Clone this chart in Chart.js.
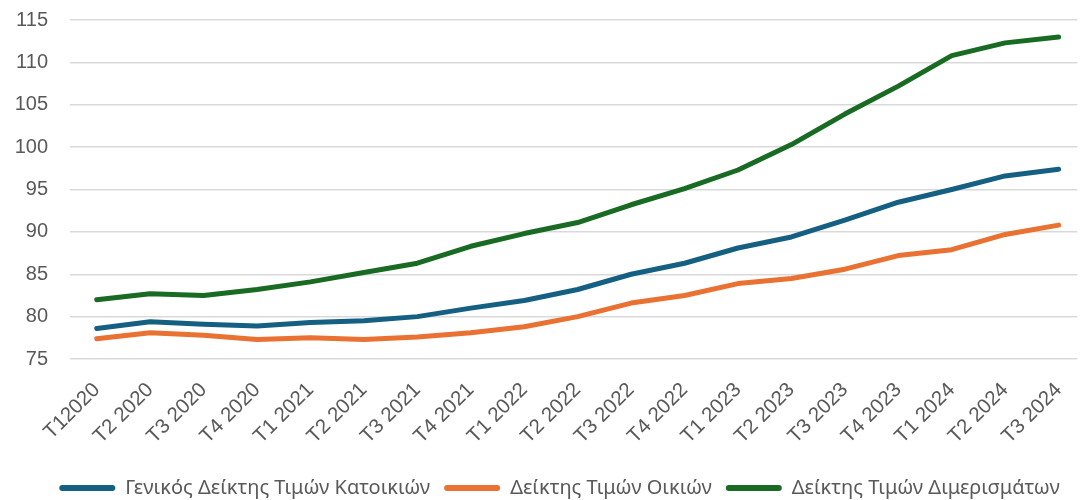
<!DOCTYPE html>
<html>
<head>
<meta charset="utf-8">
<script src="https://cdn.jsdelivr.net/npm/chart.js@4.4.1/dist/chart.umd.min.js"></script>
<style>
    html, body { margin: 0; padding: 0; background: #fff; }
    #wrap { width: 1087px; height: 500px; }
</style>
</head>
<body>
<div id="wrap"><canvas id="chart"></canvas></div>
<script>
const quarters = [
    'T12020', 'T2 2020', 'T3 2020', 'T4 2020',
    'T1 2021', 'T2 2021', 'T3 2021', 'T4 2021',
    'T1 2022', 'T2 2022', 'T3 2022', 'T4 2022',
    'T1 2023', 'T2 2023', 'T3 2023', 'T4 2023',
    'T1 2024', 'T2 2024', 'T3 2024'
];

const generalIndex = [78.6, 79.4, 79.1, 78.9, 79.3, 79.5, 80.0, 81.0, 81.9, 83.2, 85.0, 86.3, 88.1, 89.4, 91.4, 93.5, 95.0, 96.6, 97.4];
const houseIndex = [77.4, 78.1, 77.8, 77.3, 77.5, 77.3, 77.6, 78.1, 78.8, 80.0, 81.6, 82.5, 83.9, 84.5, 85.6, 87.2, 87.9, 89.7, 90.8];
const flatIndex = [82.0, 82.7, 82.5, 83.2, 84.1, 85.2, 86.3, 88.3, 89.8, 91.1, 93.2, 95.1, 97.3, 100.3, 103.9, 107.2, 110.8, 112.3, 113.0];

const seriesNames = ['Γενικός Δείκτης Τιμών Κατοικιών', 'Δείκτης Τιμών Οικιών', 'Δείκτης Τιμών Διμερισμάτων'];
const yTicks = [75, 80, 85, 90, 95, 100, 105, 110, 115];

const textGrey = '#595959';

function toPoints(values) {
    return values.map((v, i) => ({ x: i, y: v }));
}

function lineSet(label, values, color) {
    return {
        label: label,
        data: toPoints(values),
        borderColor: color,
        backgroundColor: color,
        borderWidth: 5,
        borderCapStyle: 'round',
        borderJoinStyle: 'round',
        pointRadius: 0,
        pointHoverRadius: 0,
        tension: 0
    };
}

// legend in the original sits a little right of centre
const legendShift = {
    id: 'legendShift',
    afterLayout(chart) {
        if (chart.legend) {
            chart.legend.left += 16;
            chart.legend.right += 16;
        }
    }
};

new Chart(document.getElementById('chart'), {
    type: 'line',
    data: {
        datasets: [
            lineSet(seriesNames[0], generalIndex, '#156082'),
            lineSet(seriesNames[1], houseIndex, '#E97132'),
            lineSet(seriesNames[2], flatIndex, '#196B24')
        ]
    },
    plugins: [legendShift],
    options: {
        responsive: true,
        maintainAspectRatio: false,
        animation: false,
        layout: { padding: { top: 20, right: 0, left: 0, bottom: -8 } },
        scales: {
            x: {
                type: 'linear',
                min: -0.5,
                max: 18.35,
                grid: { display: false },
                border: { display: false },
                afterBuildTicks: (scale) => {
                    scale.ticks = quarters.map((q, i) => ({ value: i }));
                },
                afterFit: (scale) => { scale.height = 105; },
                ticks: {
                    autoSkip: false,
                    minRotation: 45,
                    maxRotation: 45,
                    padding: 11,
                    color: textGrey,
                    font: { family: 'Liberation Sans', size: 20.5 },
                    callback: (value) => quarters[value]
                }
            },
            y: {
                min: 75,
                max: 115,
                afterFit: (scale) => {
                    scale.width = 70;
                    scale.paddingTop = 0;
                },
                afterBuildTicks: (scale) => {
                    scale.ticks = yTicks.map((v) => ({ value: v }));
                },
                grid: { color: '#d9d9d9', lineWidth: 1.5, drawTicks: false },
                border: { display: false },
                ticks: {
                    padding: 22,
                    color: textGrey,
                    font: { family: 'Liberation Sans', size: 20 }
                }
            }
        },
        plugins: {
            tooltip: { enabled: false },
            legend: {
                position: 'bottom',
                labels: {
                    boxWidth: 56,
                    boxHeight: 6,
                    useBorderRadius: true,
                    borderRadius: 3,
                    padding: 14,
                    color: textGrey,
                    font: { family: 'Noto Sans', size: 20 },
                    generateLabels: (chart) => {
                        const items = Chart.defaults.plugins.legend.labels.generateLabels(chart);
                        items.forEach((item) => { item.lineWidth = 0; });
                        return items;
                    }
                }
            }
        }
    }
});
</script>
</body>
</html>
